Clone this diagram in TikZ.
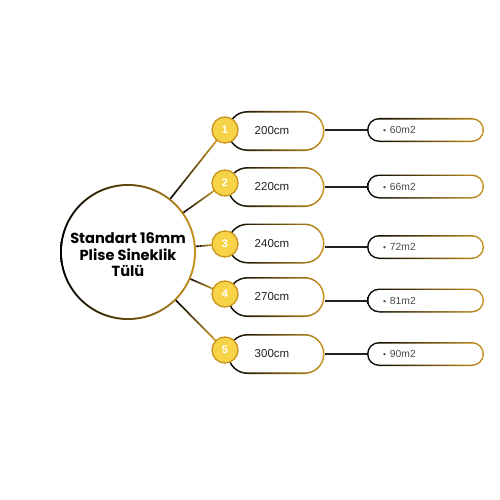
\documentclass[tikz,border=0pt]{standalone}
\usepackage{fontspec}
\setmainfont{Liberation Sans}
\newfontfamily\titlefont{Poppins}
\usetikzlibrary{calc}
\definecolor{gold}{HTML}{C9931C}
\definecolor{yel}{HTML}{F7D447}
\definecolor{txt}{HTML}{222222}
\definecolor{txtg}{HTML}{4A4A4A}
\tikzset{
  pillbox/.style={minimum width=97pt, minimum height=40pt, inner sep=0pt, font=\fontsize{11.5}{13}\selectfont, text=txt},
  rpillbox/.style={minimum height=24pt, text width=85pt, inner xsep=16pt, inner ysep=0pt, align=left, font=\fontsize{10.3}{12}\selectfont, text=txtg},
  numc/.style={circle, minimum size=26pt, inner sep=0pt, fill=yel, draw=gold, line width=1.3pt, text=white, font=\bfseries\fontsize{11}{12}\selectfont},
  conn/.style={draw=txt, line width=2pt},
}
% ring of a pill: cx cy w h border
\newcommand\pillring[5]{%
  \pgfmathsetmacro\pxa{#1-#3/2}\pgfmathsetmacro\pxb{#1+#3/2}%
  \pgfmathsetmacro\pya{#2-#4/2}\pgfmathsetmacro\pyb{#2+#4/2}%
  \pgfmathsetmacro\prr{#4/2}%
  \shade[left color=black,right color=gold,rounded corners=\prr pt] (\pxa,\pya) rectangle (\pxb,\pyb);
  \pgfmathsetmacro\pxa{#1-#3/2+#5}\pgfmathsetmacro\pxb{#1+#3/2-#5}%
  \pgfmathsetmacro\pya{#2-#4/2+#5}\pgfmathsetmacro\pyb{#2+#4/2-#5}%
  \pgfmathsetmacro\prr{#4/2-#5}%
  \fill[white,rounded corners=\prr pt] (\pxa,\pya) rectangle (\pxb,\pyb);
}
\newcommand\leftpill[4]{% name cx cy text
  \pillring{#2}{#3}{97}{40}{1.6}
  \node[pillbox] (#1) at (#2,#3) {\hspace*{-8pt}#4};
}
\newcommand\rightpill[4]{% name cx cy text
  \pillring{#2}{#3}{117}{24}{1.5}
  \node[rpillbox] (#1) at (#2,#3) {{\fontsize{8.5}{9}\selectfont\textbullet}\hspace{4pt}#4};
}
\begin{document}
\begin{tikzpicture}[x=1pt,y=-1pt]
\useasboundingbox (0,0) rectangle (500,500);
\fill[white] (0,0) rectangle (500,500);
% central node
\node[circle, minimum size=136pt, inner sep=0pt] (big) at (128,252) {};
% number nodes (positions)
\path (225,130) coordinate (c1) (225,183) coordinate (c2) (225,244) coordinate (c3)
      (225,294) coordinate (c4) (225,350) coordinate (c5);
% radial connectors with gradient
\foreach \k in {1,...,5}{
  \path ($(big.center)!67pt!(c\k)$) coordinate (s\k) ($(c\k)!12pt!(big.center)$) coordinate (e\k);
  \foreach \i in {0,...,11}{
    \pgfmathtruncatemacro\pc{\i*100/11}
    \draw[line width=1.6pt, color=gold!\pc!black] ($(s\k)!\i/12!(e\k)$) -- ($(s\k)!\i/12+1/12!(e\k)$);
  }
}
% big circle ring
\shade[left color=black,right color=gold] (big.center) circle (68pt);
\fill[white] (big.center) circle (66pt);
\node[align=center, font=\titlefont\bfseries\fontsize{14.6}{16.5}\selectfont, text=black] (title) at (128,255) {Standart 16mm\\Plise Sineklik\\Tülü};
% pills
\leftpill{p1}{276}{131}{200cm}
\leftpill{p2}{276}{187}{220cm}
\leftpill{p3}{276}{243.5}{240cm}
\leftpill{p4}{276}{297}{270cm}
\leftpill{p5}{276}{354}{300cm}
\rightpill{r1}{425.5}{130}{60m2}
\rightpill{r2}{425.5}{186.5}{66m2}
\rightpill{r3}{425.5}{247}{72m2}
\rightpill{r4}{425.5}{300.5}{81m2}
\rightpill{r5}{425.5}{354}{90m2}
% connectors between pills
\foreach \k in {1,...,5}{
  \draw[conn] (p\k.east |- r\k.west) -- (r\k.west);
}
% number circles
\foreach \k in {1,...,5}{
  \node[numc] (n\k) at (c\k) {\k};
}
\end{tikzpicture}
\end{document}
